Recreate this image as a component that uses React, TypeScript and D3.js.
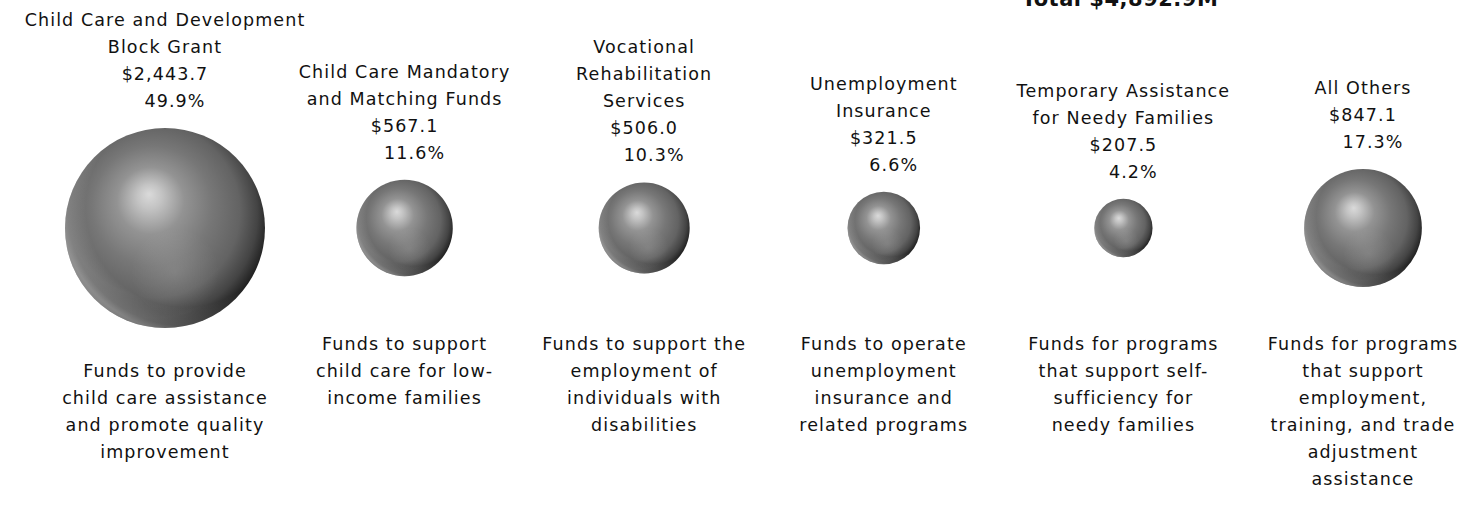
import { useMemo } from 'react';
import * as d3 from 'd3';

// program names (as wrapped in the source), amounts in $M and descriptions
const programs = [
  [ 'Child Care and Development', 'Block Grant' ],
  [ 'Child Care Mandatory', 'and Matching Funds' ],
  [ 'Vocational', 'Rehabilitation', 'Services' ],
  [ 'Unemployment', 'Insurance' ],
  [ 'Temporary Assistance', 'for Needy Families' ],
  [ 'All Others' ],
];

const amounts = [ 2443.7, 567.1, 506.0, 321.5, 207.5, 847.1 ];

const descriptions = [
  [ 'Funds to provide', 'child care assistance', 'and promote quality', 'improvement' ],
  [ 'Funds to support', 'child care for low-', 'income families' ],
  [ 'Funds to support the', 'employment of', 'individuals with', 'disabilities' ],
  [ 'Funds to operate', 'unemployment', 'insurance and', 'related programs' ],
  [ 'Funds for programs', 'that support self-', 'sufficiency for', 'needy families' ],
  [ 'Funds for programs', 'that support', 'employment,', 'training, and trade', 'adjustment', 'assistance' ],
];

const WIDTH = 1460;
const HEIGHT = 510;
const FONT = '"DejaVu Sans", sans-serif';
const LINE = 27;

export default function App() {
  const total = d3.sum( amounts );

  const x = useMemo( () => d3.scalePoint<number>()
    .domain( d3.range( amounts.length ) )
    .range( [ 165, 1363 ] ), [] );

  const r = useMemo( () => d3.scaleSqrt()
    .domain( [ 0, d3.max( amounts ) as number ] )
    .range( [ 0, 100 ] ), [] );

  const cy = 228;
  const fmt = d3.format( ',.1f' );

  return (
    <svg width={ WIDTH } height={ HEIGHT }
      style={ { position: 'absolute', left: 0, top: 0, background: '#fff' } }
      fontFamily={ FONT } fontSize={ 17.5 } letterSpacing={ 1.1 } fill="#111">
      <defs>
        <radialGradient id="ball" cx="0.45" cy="0.45" r="0.6" fx="0.42" fy="0.33">
          <stop offset="0" stopColor="#dadada" />
          <stop offset="0.1" stopColor="#c4c4c4" />
          <stop offset="0.28" stopColor="#939393" />
          <stop offset="0.5" stopColor="#777" />
          <stop offset="0.72" stopColor="#636363" />
          <stop offset="0.86" stopColor="#444" />
          <stop offset="0.95" stopColor="#222" />
          <stop offset="1" stopColor="#111" />
        </radialGradient>
        <radialGradient id="rim" cx="0.6" cy="0.4" r="0.62">
          <stop offset="0.8" stopColor="#fff" stopOpacity="0" />
          <stop offset="0.95" stopColor="#fff" stopOpacity="0.2" />
          <stop offset="1" stopColor="#fff" stopOpacity="0.35" />
        </radialGradient>
        <radialGradient id="glow" cx="0.55" cy="0.72" r="0.22">
          <stop offset="0" stopColor="#fff" stopOpacity="0.12" />
          <stop offset="1" stopColor="#fff" stopOpacity="0" />
        </radialGradient>
      </defs>

      <text x={ 1120 } y={ 6 } textAnchor="middle" fontWeight="bold" fontSize={ 21 } letterSpacing={ 0.5 }>
        { `Total $${ fmt( total ) }M` }
      </text>

      { amounts.map( ( v, i ) => {
        const cx = x( i ) as number;
        const rad = r( v );
        const head = [ ...programs[ i ], `$${ fmt( v ) }` ];
        const pctY = cy - rad - 21;
        const firstY = pctY - head.length * LINE;
        const descY = Math.max( 350, cy + rad + 49 );
        return (
          <g key={ i }>
            { head.map( ( t, j ) => (
              <text key={ j } x={ cx } y={ firstY + j * LINE } textAnchor="middle">{ t }</text>
            ) ) }
            <text x={ cx + 10 } y={ pctY } textAnchor="middle">{ `${ ( v / total * 100 ).toFixed( 1 ) }%` }</text>
            <circle cx={ cx } cy={ cy } r={ rad } fill="url(#ball)" />
            <circle cx={ cx } cy={ cy } r={ rad } fill="url(#glow)" />
            <circle cx={ cx } cy={ cy } r={ rad } fill="url(#rim)" />
            { descriptions[ i ].map( ( t, j ) => (
              <text key={ j } x={ cx } y={ descY + j * LINE } textAnchor="middle">{ t }</text>
            ) ) }
          </g>
        );
      } ) }
    </svg>
  );
}
